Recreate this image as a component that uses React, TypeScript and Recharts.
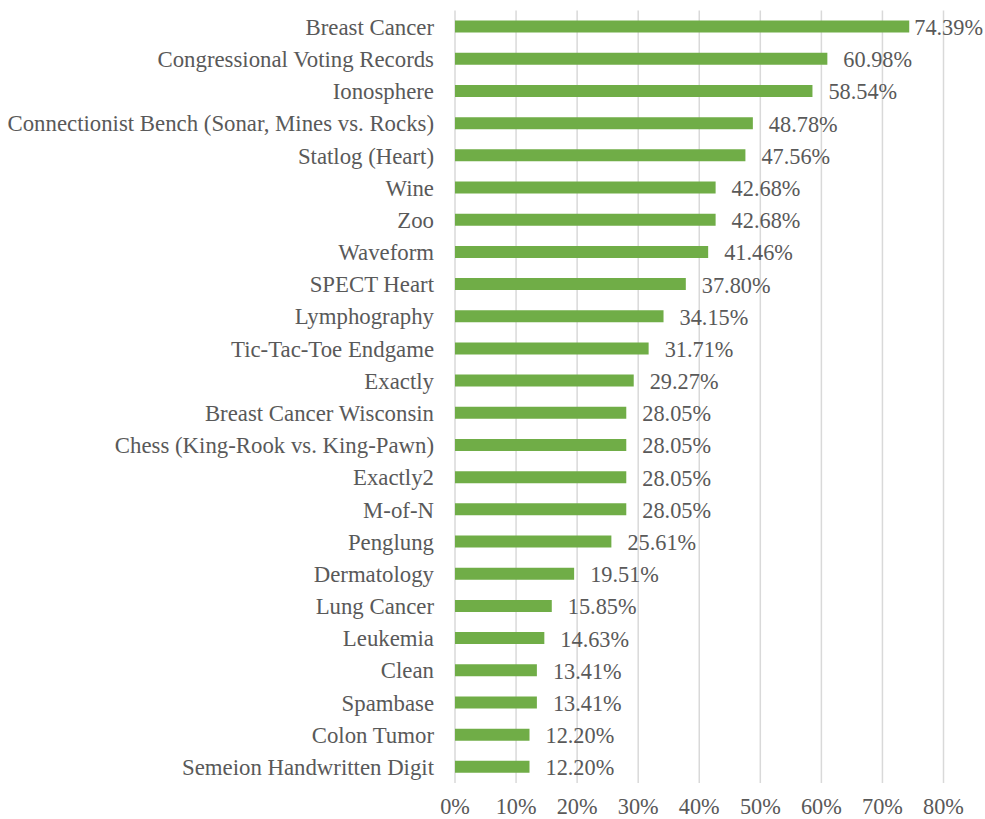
import { BarChart, Bar, XAxis, YAxis, CartesianGrid, LabelList } from "recharts";

const datasets = [
  "Breast Cancer",
  "Congressional Voting Records",
  "Ionosphere",
  "Connectionist Bench (Sonar, Mines vs. Rocks)",
  "Statlog (Heart)",
  "Wine",
  "Zoo",
  "Waveform",
  "SPECT Heart",
  "Lymphography",
  "Tic-Tac-Toe Endgame",
  "Exactly",
  "Breast Cancer Wisconsin",
  "Chess (King-Rook vs. King-Pawn)",
  "Exactly2",
  "M-of-N",
  "Penglung",
  "Dermatology",
  "Lung Cancer",
  "Leukemia",
  "Clean",
  "Spambase",
  "Colon Tumor",
  "Semeion Handwritten Digit",
];

const percentages = [
  74.39, 60.98, 58.54, 48.78, 47.56, 42.68, 42.68, 41.46, 37.8, 34.15, 31.71, 29.27,
  28.05, 28.05, 28.05, 28.05, 25.61, 19.51, 15.85, 14.63, 13.41, 13.41, 12.2, 12.2,
];

const xTicks = [0, 10, 20, 30, 40, 50, 60, 70, 80];

const data = datasets.map((name, i) => ({ name, value: percentages[i] }));

const FONT = "'Liberation Serif', 'Times New Roman'";
const TEXT = "#595959";
const CHART_W = 985;

function ValueLabel(props: any) {
  const { x, y, width, height, value } = props;
  const end = Number(x) + Number(width);
  const txt = Number(value).toFixed(2) + "%";
  // keep the label inside the chart, like Excel does for the longest bar
  const fits = end + 16 + 70 < CHART_W - 3;
  return (
    <text
      x={fits ? end + 16 : CHART_W - 2}
      y={Number(y) + Number(height) / 2 + 1}
      textAnchor={fits ? "start" : "end"}
      dominantBaseline="central"
      fill={TEXT}
      fontSize={22.3}
      fontFamily={FONT}
    >
      {txt}
    </text>
  );
}

export default function App() {
  return (
    <div style={{ position: "absolute", left: 0, top: 0, background: "#fff" }}>
      <BarChart
        width={CHART_W}
        height={819}
        data={data}
        layout="vertical"
        margin={{ top: 10.6, right: 41.5, left: 0, bottom: 0 }}
      >
        <CartesianGrid horizontal={false} stroke="#D9D9D9" strokeWidth={1.5} />
        <XAxis
          type="number"
          domain={[0, 80]}
          ticks={xTicks}
          interval={0}
          tickFormatter={(v) => `${v}%`}
          axisLine={false}
          tickLine={false}
          height={36}
          tick={{ fill: TEXT, fontSize: 22.3, fontFamily: FONT }}
          tickMargin={9}
        />
        <YAxis
          type="category"
          dataKey="name"
          width={455}
          interval={0}
          axisLine={false}
          tickLine={false}
          tickSize={0}
          tickMargin={21}
          tick={{ fill: TEXT, fontSize: 22.8, fontFamily: FONT }}
        />
        <Bar dataKey="value" fill="#70AD47" barSize={12} isAnimationActive={false}>
          <LabelList dataKey="value" content={ValueLabel} />
        </Bar>
      </BarChart>
    </div>
  );
}
